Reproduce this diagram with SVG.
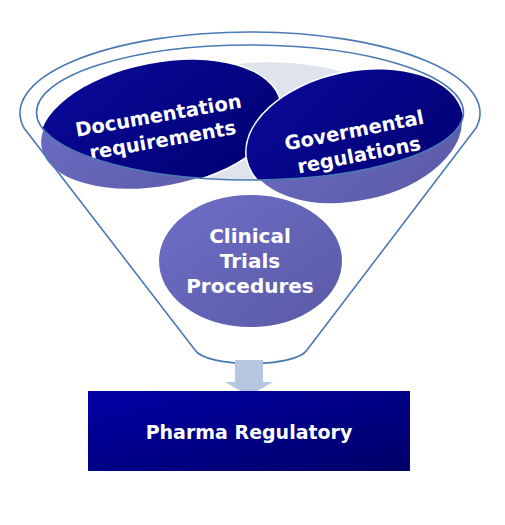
<svg xmlns="http://www.w3.org/2000/svg" width="505" height="525" viewBox="0 0 505 525">
<style>
.rim{fill:none;stroke:#4a7ab4;stroke-width:1.6}
.lbl{font-family:"DejaVu Sans","Liberation Sans",sans-serif;font-weight:bold;fill:#ffffff;text-anchor:middle}
.edge{stroke:#ffffff;stroke-width:3}
</style>
<defs>
<linearGradient id="dark" x1="0" y1="0" x2="1" y2="1">
<stop offset="0" stop-color="#0a0a9a"/>
<stop offset="1" stop-color="#000070"/>
</linearGradient>
<linearGradient id="light" x1="0" y1="0" x2="1" y2="1">
<stop offset="0" stop-color="#6e6ec8"/>
<stop offset="1" stop-color="#5a5aa6"/>
</linearGradient>
<linearGradient id="box" x1="0" y1="0" x2="1" y2="1">
<stop offset="0" stop-color="#0000a6"/>
<stop offset="1" stop-color="#000068"/>
</linearGradient>
<clipPath id="inner">
<ellipse cx="250" cy="112.5" rx="213.5" ry="67.5"/>
</clipPath>
</defs>
<rect width="505" height="525" fill="#ffffff"/>
<g id="funnel-back">
<path d="M238 64 C265 60 322 62 352 76 L278 182 L205 182 Z" fill="#dfe4ec" clip-path="url(#inner)"/>
</g>
<g id="node-clinical">
<ellipse cx="250.5" cy="261" rx="93" ry="67.5" fill="url(#light)" class="edge"/>
<text class="lbl" font-size="20" x="250" y="243">Clinical</text>
<text class="lbl" font-size="20" x="250" y="268">Trials</text>
<text class="lbl" font-size="20" x="250" y="293">Procedures</text>
</g>
<g id="node-doc">
<g transform="rotate(-11 160 125)">
<ellipse cx="160" cy="125" rx="122" ry="62" fill="url(#light)" class="edge"/>
</g>
<g clip-path="url(#inner)">
<g transform="rotate(-11 160 125)">
<ellipse cx="160" cy="125" rx="122" ry="62" fill="url(#dark)"/>
</g>
</g>
<g transform="rotate(-10 160 125)">
<text class="lbl" font-size="19.5" x="160" y="122">Documentation</text>
<text class="lbl" font-size="19.5" x="160" y="147">requirements</text>
</g>
</g>
<g id="node-gov">
<g transform="rotate(-12 355 137)">
<ellipse cx="355" cy="137" rx="110" ry="65" fill="url(#light)" class="edge"/>
</g>
<g clip-path="url(#inner)">
<g transform="rotate(-12 355 137)">
<ellipse cx="355" cy="137" rx="110" ry="65" fill="url(#dark)"/>
</g>
</g>
<g transform="rotate(-11 356 140)">
<text class="lbl" font-size="19.5" x="356" y="137">Govermental</text>
<text class="lbl" font-size="19.5" x="356" y="162">regulations</text>
</g>
</g>
<g id="funnel">
<ellipse class="rim" cx="250" cy="112.5" rx="213.5" ry="67.5"/>
<path class="rim" d="M195 350 L24 128 A230 81 0 1 1 476 128 L307 350 C296 368 206 368 195 350 Z"/>
</g>
<g id="connectors">
<path d="M235 360 L263 360 L263 382 L273 382 L249 396 L225 382 L235 382 Z" fill="#b4c6e0"/>
</g>
<g id="node-output">
<rect x="88" y="391" width="322" height="80" fill="url(#box)"/>
<text class="lbl" font-size="19" x="249" y="439">Pharma Regulatory</text>
</g>
</svg>
